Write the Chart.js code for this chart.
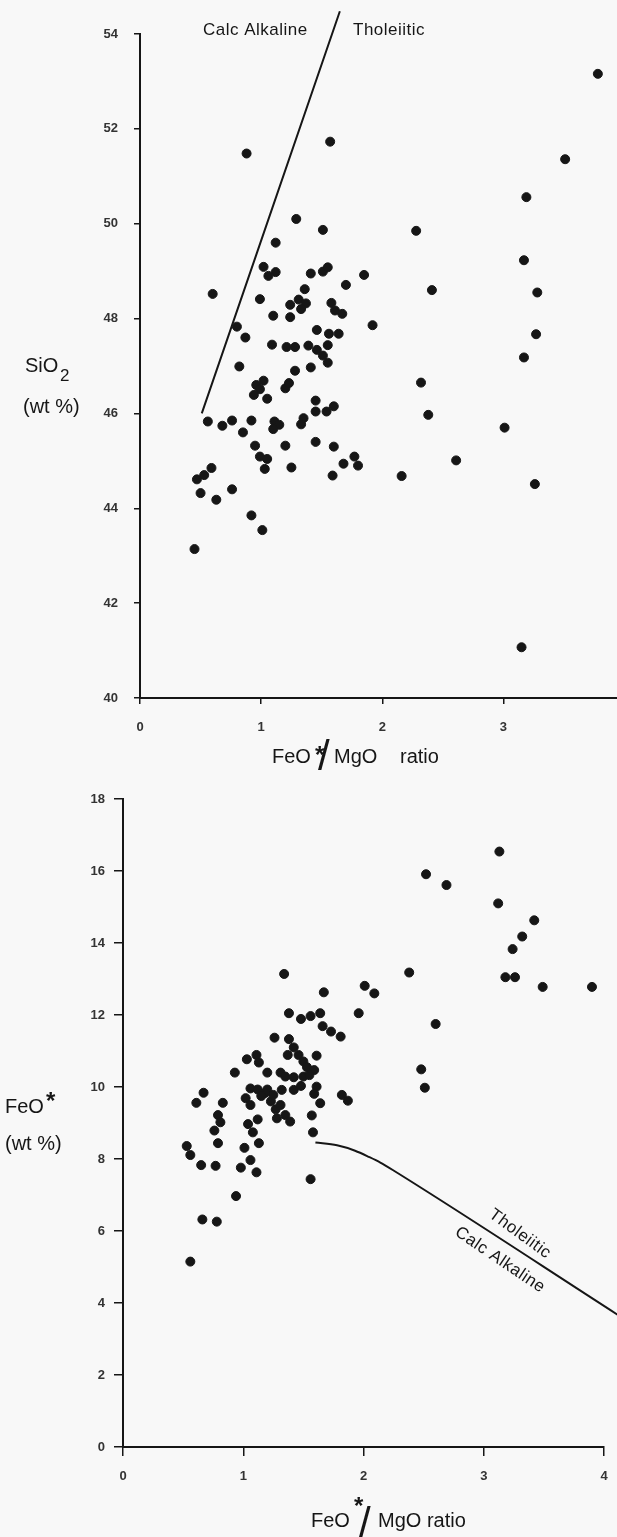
<!DOCTYPE html>
<html>
<head>
<meta charset="utf-8">
<script src="https://cdn.jsdelivr.net/npm/chart.js@4.4.1/dist/chart.umd.min.js"></script>
<style>
  html, body { margin: 0; padding: 0; background: #f8f8f8; width: 617px; height: 1537px; overflow: hidden; }
  body { position: relative; }
  canvas { position: absolute; left: 0; }
  #sio { top: 0; }
  #feo { top: 775px; }
</style>
</head>
<body>
<!-- the upper frame runs off the right edge of the page, as in the scan -->
<canvas id="sio" width="630" height="775"></canvas>
<canvas id="feo" width="617" height="762"></canvas>
<script>
// tick labels
const ratioTicks = [0, 1, 2, 3, 4];
const sioTicks = [40, 42, 44, 46, 48, 50, 52, 54];
const feoTicks = [0, 2, 4, 6, 8, 10, 12, 14, 16, 18];

// upper diagram: SiO2 (wt %) against FeO*/MgO
const sioRatio = [
  3.78, 3.51, 3.19, 1.57, 0.88, 1.29, 2.28, 1.51, 3.17, 1.12,
  1.02, 1.12, 1.06, 1.41, 1.51, 1.55, 1.85, 0.60, 1.70, 1.36,
  0.99, 1.24, 1.31, 1.37, 1.33, 1.58, 1.61, 1.67, 1.10, 1.24,
  1.92, 0.80, 0.87, 1.46, 1.56, 1.64, 1.09, 1.21, 1.28, 1.39,
  1.46, 1.55, 1.51, 1.55, 0.82, 1.28, 1.41, 2.41, 3.28, 3.27,
  3.17, 0.96, 1.02, 0.99, 0.94, 1.05, 1.20, 1.23, 1.45, 1.45,
  1.54, 1.60, 0.56, 0.68, 0.76, 0.92, 0.85, 1.11, 1.15, 1.10,
  1.35, 1.33, 0.95, 1.20, 1.45, 1.60, 0.99, 1.05, 1.03, 1.25,
  1.68, 1.77, 1.80, 1.59, 0.59, 0.53, 0.47, 0.50, 0.63, 0.76,
  0.92, 1.01, 0.45, 2.32, 2.38, 3.01, 2.61, 2.16, 3.26, 3.15
];
const sioValues = [
  53.16, 51.36, 50.56, 51.73, 51.48, 50.10, 49.85, 49.87, 49.23, 49.60,
  49.09, 48.98, 48.90, 48.95, 48.99, 49.08, 48.92, 48.52, 48.71, 48.62,
  48.41, 48.29, 48.40, 48.32, 48.20, 48.33, 48.17, 48.10, 48.06, 48.03,
  47.86, 47.83, 47.60, 47.76, 47.68, 47.68, 47.45, 47.40, 47.40, 47.43,
  47.34, 47.44, 47.22, 47.07, 46.99, 46.90, 46.97, 48.60, 48.55, 47.67,
  47.18, 46.60, 46.69, 46.51, 46.39, 46.31, 46.53, 46.64, 46.27, 46.04,
  46.04, 46.15, 45.83, 45.74, 45.85, 45.85, 45.60, 45.83, 45.76, 45.67,
  45.90, 45.77, 45.32, 45.32, 45.40, 45.30, 45.09, 45.04, 44.83, 44.86,
  44.94, 45.09, 44.90, 44.69, 44.85, 44.70, 44.61, 44.32, 44.18, 44.40,
  43.85, 43.54, 43.14, 46.65, 45.97, 45.70, 45.01, 44.68, 44.51, 41.07
];
const sioDividerRatio = [0.51, 1.65];
const sioDividerValues = [46.0, 54.48];

// lower diagram: FeO* (wt %) against FeO*/MgO
const feoRatio = [
  1.34, 1.67, 2.01, 2.09, 1.96, 1.38, 1.48, 1.56, 1.64, 1.66,
  1.73, 1.81, 1.26, 1.38, 1.42, 1.37, 1.46, 1.61, 1.03, 1.11,
  1.13, 1.50, 1.53, 1.59, 0.93, 1.20, 1.31, 1.35, 1.42, 1.50,
  1.55, 0.67, 1.06, 1.12, 1.20, 1.32, 1.42, 1.48, 1.61, 1.82,
  2.38, 2.52, 2.69, 3.13, 3.12, 3.42, 3.32, 3.24, 3.18, 3.26,
  3.49, 3.90, 2.60, 2.48, 2.51, 0.61, 0.83, 1.02, 1.06, 1.18,
  1.23, 1.27, 1.31, 1.28, 1.35, 1.39, 1.59, 1.64, 1.87, 0.79,
  0.81, 0.76, 0.79, 1.04, 1.12, 1.08, 1.13, 1.57, 1.58, 0.53,
  0.56, 0.65, 0.77, 1.01, 0.98, 1.06, 1.11, 1.56, 0.94, 0.66,
  0.78, 0.56, 1.15, 1.25
];
const feoValues = [
  13.14, 12.63, 12.81, 12.60, 12.05, 12.05, 11.89, 11.97, 12.05, 11.69,
  11.54, 11.40, 11.37, 11.33, 11.10, 10.89, 10.89, 10.87, 10.77, 10.89,
  10.68, 10.71, 10.55, 10.47, 10.40, 10.40, 10.40, 10.29, 10.27, 10.29,
  10.33, 9.84, 9.96, 9.93, 9.93, 9.92, 9.92, 10.03, 10.01, 9.78,
  13.18, 15.91, 15.61, 16.54, 15.10, 14.63, 14.18, 13.83, 13.05, 13.05,
  12.78, 12.78, 11.75, 10.49, 9.98, 9.56, 9.56, 9.69, 9.50, 9.83,
  9.60, 9.38, 9.50, 9.13, 9.22, 9.04, 9.81, 9.55, 9.62, 9.22,
  9.02, 8.79, 8.44, 8.97, 9.10, 8.74, 8.44, 9.21, 8.74, 8.36,
  8.11, 7.83, 7.81, 8.31, 7.76, 7.97, 7.63, 7.44, 6.97, 6.32,
  6.26, 5.15, 9.75, 9.78
];
const feoDividerRatio = [1.60, 1.78, 1.93, 2.05, 2.14, 2.25, 4.12];
const feoDividerValues = [8.46, 8.38, 8.23, 8.05, 7.90, 7.68, 3.66];

const ink = '#161616';
const family = '"Liberation Sans", Arial, sans-serif';

function pairs(xs, ys) {
  return xs.map((x, i) => ({ x: x, y: ys[i] }));
}

function labelPlugin(items) {
  return {
    id: 'labels',
    afterDraw(chart) {
      const ctx = chart.ctx;
      items.forEach(it => {
        ctx.save();
        ctx.font = it.font;
        ctx.fillStyle = ink;
        ctx.textAlign = it.align || 'left';
        ctx.textBaseline = it.base || 'alphabetic';
        ctx.letterSpacing = it.spacing || '0px';
        ctx.translate(it.x, it.y);
        if (it.rot) ctx.rotate(it.rot * Math.PI / 180);
        ctx.fillText(it.text, 0, 0);
        ctx.restore();
      });
    }
  };
}

function makeChart(id, o) {
  const tickFont = { family: family, size: 13, weight: 'bold' };
  return new Chart(document.getElementById(id), {
    type: 'scatter',
    data: {
      datasets: [{
        data: pairs(o.xs, o.ys),
        pointRadius: 4.5,
        pointBorderWidth: 1,
        backgroundColor: ink,
        borderColor: ink
      }, {
        data: pairs(o.lineX, o.lineY),
        showLine: true,
        pointRadius: 0,
        borderColor: ink,
        borderWidth: 2,
        cubicInterpolationMode: 'monotone',
        clip: false
      }]
    },
    options: {
      responsive: false,
      animation: false,
      devicePixelRatio: 1,
      layout: { padding: o.padding },
      plugins: { legend: { display: false }, tooltip: { enabled: false } },
      scales: {
        x: {
          type: 'linear', min: 0, max: 4,
          afterBuildTicks: s => { s.ticks = ratioTicks.map(v => ({ value: v })); },
          afterFit: s => { s.height = o.xHeight; s.paddingLeft = 0; s.paddingRight = 0; },
          grid: { drawOnChartArea: false, tickLength: o.tickLen, color: ink, lineWidth: 1.5 },
          border: { color: ink, width: 2 },
          ticks: { padding: o.xPad, maxRotation: 0, color: '#333', font: tickFont }
        },
        y: {
          type: 'linear', min: o.yMin, max: o.yMax,
          afterBuildTicks: s => { s.ticks = o.yTicks.map(v => ({ value: v })); },
          afterFit: s => { s.width = o.yWidth; s.paddingTop = 0; s.paddingBottom = 0; },
          grid: { drawOnChartArea: false, tickLength: o.tickLen, color: ink, lineWidth: 1.5 },
          border: { color: ink, width: 2 },
          ticks: { padding: o.yPad, color: '#333', font: tickFont }
        }
      }
    },
    plugins: [labelPlugin(o.labels)]
  });
}

const f20 = '20px ' + family;
const f17 = '17px ' + family;
const star = 'bold 24px ' + family;
const slash = '42px ' + family;

makeChart('sio', {
  xs: sioRatio, ys: sioValues,
  lineX: sioDividerRatio, lineY: sioDividerValues,
  yTicks: sioTicks, yMin: 40, yMax: 54,
  padding: { top: 34, right: 2, bottom: 0, left: 0 },
  xHeight: 77, yWidth: 140, tickLen: 6, xPad: 16, yPad: 16,
  labels: [
    { text: 'Calc Alkaline', x: 203, y: 35, font: f17, spacing: '0.5px' },
    { text: 'Tholeiitic', x: 353, y: 35, font: f17, spacing: '0.5px' },
    { text: 'SiO', x: 25, y: 372, font: f20 },
    { text: '2', x: 60, y: 381, font: f17 },
    { text: '(wt %)', x: 23, y: 413, font: f20 },
    { text: 'FeO', x: 272, y: 763, font: f20 },
    { text: '*', x: 315, y: 763, font: star },
    { text: '/', x: 318, y: 770, font: slash },
    { text: 'MgO', x: 334, y: 763, font: f20 },
    { text: 'ratio', x: 400, y: 763, font: f20 }
  ]
});

makeChart('feo', {
  xs: feoRatio, ys: feoValues,
  lineX: feoDividerRatio, lineY: feoDividerValues,
  yTicks: feoTicks, yMin: 0, yMax: 18,
  padding: { top: 24, right: 13, bottom: 0, left: 0 },
  xHeight: 90, yWidth: 123, tickLen: 9, xPad: 13, yPad: 9,
  labels: [
    { text: 'FeO', x: 5, y: 338, font: f20 },
    { text: '*', x: 46, y: 334, font: star },
    { text: '(wt %)', x: 5, y: 375, font: f20 },
    { text: 'FeO', x: 311, y: 752, font: f20 },
    { text: '*', x: 354, y: 739, font: star },
    { text: '/', x: 359, y: 762, font: slash },
    { text: 'MgO ratio', x: 378, y: 752, font: f20 },
    { text: 'Tholeiitic', x: 520, y: 459, font: f17, spacing: '0.5px', align: 'center', base: 'middle', rot: 36 },
    { text: 'Calc Alkaline', x: 500, y: 485, font: f17, spacing: '0.5px', align: 'center', base: 'middle', rot: 34 }
  ]
});
</script>
</body>
</html>
